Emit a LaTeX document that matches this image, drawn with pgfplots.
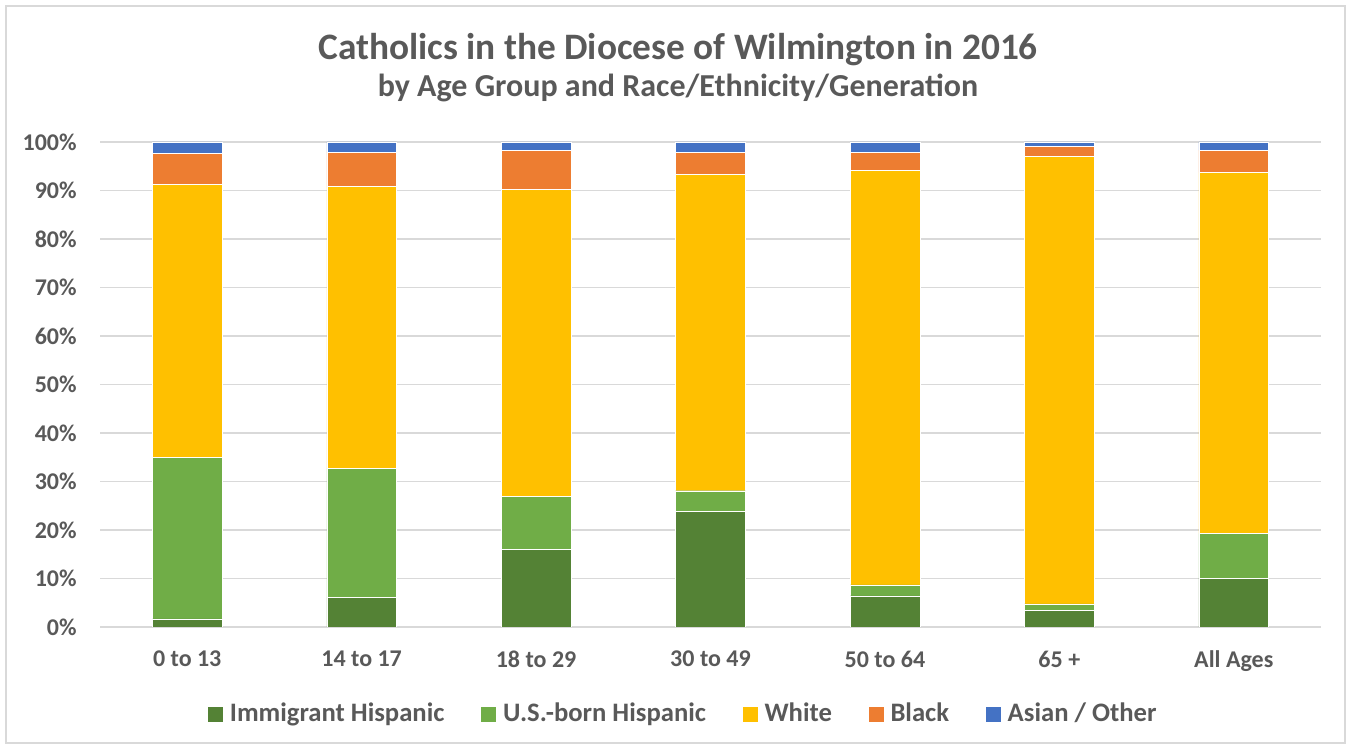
\documentclass[border=0pt]{standalone}
\usepackage{pgfplots}
\pgfplotsset{compat=1.18}
\usepackage{fontspec}
\setmainfont{Carlito}

\definecolor{txt}{HTML}{595959}
\definecolor{gridc}{HTML}{D9D9D9}
\definecolor{immig}{HTML}{548235}
\definecolor{usborn}{HTML}{70AD47}
\definecolor{white1}{HTML}{FFC000}
\definecolor{black1}{HTML}{ED7D31}
\definecolor{asian}{HTML}{4472C4}

% share of each group, per cent, age groups at x = 0..6
\pgfplotstableread{
x  imm   usb   wht    blk  asi
0  1.7   33.3  56.3   6.4  2.3
1  6.1   26.6  58.1   7.1  2.1
2  16.0  11.0  63.2   8.1  1.7
3  23.9  4.2   65.3   4.5  2.1
4  6.4   2.3   85.5   3.7  2.1
5  3.5   1.25  92.35  2.0  0.9
6  10.1  9.2   74.4   4.6  1.7
}\catholics

\begin{document}
\begin{tikzpicture}
\path[use as bounding box] (0,0) rectangle (675.5pt,374.5pt);
\draw[gridc, line width=0.6pt] (3pt,3pt) rectangle (672.5pt,371.5pt);

\node[anchor=base, text=txt, font=\fontsize{18.67}{22}\selectfont\bfseries]
  at (339pt,344.75pt) {Catholics in the Diocese of Wilmington in 2016};
\node[anchor=base, text=txt, font=\fontsize{16}{19}\selectfont\bfseries]
  at (339pt,326pt) {by Age Group and Race/Ethnicity/Generation};

\begin{axis}[
  at={(50pt,61pt)}, anchor=south west,
  scale only axis, width=610.5pt, height=242.5pt,
  ybar stacked, bar width=0.4,
  xmin=-0.5, xmax=6.5, ymin=0, ymax=100,
  xtick=data,
  xticklabels={0 to 13, 14 to 17, 18 to 29, 30 to 49, 50 to 64, 65 +, All Ages},
  ytick={0,10,...,100},
  yticklabel={\pgfmathprintnumber{\tick}\%},
  /pgf/number format/assume math mode=true,
  tick style={draw=none},
  axis x line*=bottom, axis y line*=left,
  x axis line style={gridc, line width=0.75pt},
  y axis line style={draw=none},
  ymajorgrids, major grid style={gridc, line width=0.75pt},
  tick label style={text=txt, font=\fontsize{12}{14}\selectfont\bfseries, inner sep=0pt},
  yticklabel style={anchor=east, xshift=-11.5pt},
  xticklabel style={anchor=north, yshift=-11.75pt},
  every axis plot/.append style={draw=white, line width=0.2pt},
  legend columns=5,
  legend style={at={(0.477,-0.1794)}, anchor=center, draw=none, fill=none,
    text=txt, font=\fontsize{13.33}{16}\selectfont\bfseries,
    nodes={inner sep=0pt},
    /tikz/every odd column/.append style={column sep=3.3pt},
    /tikz/every even column/.append style={column sep=18.5pt}},
  legend image code/.code={\fill[#1, draw=none] (0pt,-3.75pt) rectangle (7.5pt,3.75pt);},
]
\addplot[fill=immig] table[x=x, y=imm] {\catholics};
\addplot[fill=usborn] table[x=x, y=usb] {\catholics};
\addplot[fill=white1] table[x=x, y=wht] {\catholics};
\addplot[fill=black1] table[x=x, y=blk] {\catholics};
\addplot[fill=asian] table[x=x, y=asi] {\catholics};
\legend{Immigrant Hispanic, U.S.-born Hispanic, White, Black, Asian / Other}
\end{axis}
\end{tikzpicture}
\end{document}
